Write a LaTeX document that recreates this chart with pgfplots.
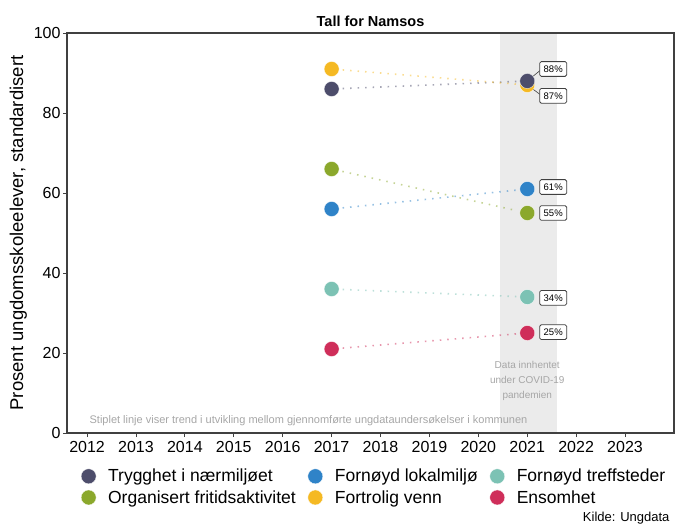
\documentclass[border=0pt]{standalone}
\usepackage{pgfplots}
\pgfplotsset{compat=1.18}
\usepackage{fontspec}
\setmainfont{Liberation Sans}
\definecolor{cdark}{HTML}{4D4D6B}
\definecolor{cblue}{HTML}{2F83C8}
\definecolor{cteal}{HTML}{7CC2B4}
\definecolor{cgreen}{HTML}{8BA82C}
\definecolor{cyellow}{HTML}{F5B923}
\definecolor{cred}{HTML}{CF2E5A}
\begin{document}
\begin{tikzpicture}[x=1pt,y=1pt]
\useasboundingbox (0,0) rectangle (676,531);
\begin{axis}[
  at={(67pt,98pt)}, anchor=south west,
  width=607pt, height=400pt, scale only axis,
  xmin=2011.59, xmax=2024.0, ymin=0, ymax=100,
  xtick={2012,...,2023}, ytick={0,20,...,100},
  xtick pos=left, ytick pos=left,
  tick align=outside, major tick length=4pt,
  tick style={black!75, line width=0.8pt},
  axis line style={black!75, line width=1.2pt},
  axis on top,
  x tick label style={/pgf/number format/1000 sep={}, yshift=-1pt},
  y tick label style={xshift=1pt},
  ticklabel style={font=\fontsize{16}{18}\selectfont},
  /pgf/number format/assume math mode=true,
  ylabel={Prosent ungdomsskoleelever, standardisert},
  ylabel style={font=\fontsize{18.5}{20}\selectfont, at={(axis description cs:-0.08,0.5)}, anchor=center},
  title={Tall for Namsos},
  title style={font=\bfseries\fontsize{14.5}{16}\selectfont, yshift=-3pt},
  legend columns=3,
  legend cell align=left,
  legend style={at={(0.018,-0.08)}, anchor=north west, draw=none,
    font=\fontsize{17.5}{19}\selectfont, column sep=10pt, row sep=3pt},
]
\fill[black!8] (axis cs:2020.45,0) rectangle (axis cs:2021.6,100);

% dotted trend lines
\pgfplotsset{trend/.style={line width=1.6pt, dash pattern=on 1.5pt off 6pt, opacity=0.5, forget plot, shorten <=11pt, shorten >=11pt}}
\addplot[cdark, trend] coordinates {(2017,86) (2021,88)};
\addplot[cblue, trend] coordinates {(2017,56) (2021,61)};
\addplot[cteal, trend] coordinates {(2017,36) (2021,34)};
\addplot[cgreen, trend] coordinates {(2017,66) (2021,55)};
\addplot[cyellow, trend] coordinates {(2017,91) (2021,87)};
\addplot[cred, trend] coordinates {(2017,21) (2021,25)};

\pgfplotsset{dot/.style={only marks, mark=*, mark size=7.5pt, mark options={draw=white, line width=0.3pt}}}
\addplot[cdark, dot] coordinates {(2017,86) (2021,88)};
\addlegendentry{Trygghet i nærmiljøet}
\addplot[cblue, dot] coordinates {(2017,56) (2021,61)};
\addlegendentry{Fornøyd lokalmiljø}
\addplot[cteal, dot] coordinates {(2017,36) (2021,34)};
\addlegendentry{Fornøyd treffsteder}
\addplot[cgreen, dot] coordinates {(2017,66) (2021,55)};
\addlegendentry{Organisert fritidsaktivitet}
\addplot[cyellow, dot] coordinates {(2017,91) (2021,87)};
\addlegendentry{Fortrolig venn}
\addplot[cred, dot] coordinates {(2017,21) (2021,25)};
\addlegendentry{Ensomhet}
\addplot[cdark, dot, forget plot] coordinates {(2021,88)};

% labels
\draw[black!75, line width=0.6pt] (axis cs:2021,88) -- (axis cs:2021.3,91);
\draw[black!75, line width=0.6pt] (axis cs:2021,87) -- (axis cs:2021.3,84.3);
\tikzset{lab/.style={draw=black!75, rounded corners=1.5pt, fill=white, line width=0.8pt,
  font=\fontsize{9.5}{11}\selectfont, inner xsep=4pt, inner ysep=4pt}}
\node[lab] at (axis cs:2021.53,91) {88\%};
\node[lab] at (axis cs:2021.53,84.3) {87\%};
\node[lab] at (axis cs:2021.53,61.5) {61\%};
\node[lab] at (axis cs:2021.53,55) {55\%};
\node[lab] at (axis cs:2021.53,33.8) {34\%};
\node[lab] at (axis cs:2021.53,25.2) {25\%};

\node[align=center, text=black!35, font=\fontsize{10}{15}\selectfont] at (axis cs:2021,13) {Data innhentet\\under COVID-19\\pandemien};
\node[anchor=west, text=black!35, font=\fontsize{11}{13}\selectfont] at (axis cs:2011.98,3) {Stiplet linje viser trend i utvikling mellom gjennomførte ungdataundersøkelser i kommunen};
\end{axis}
\node[anchor=south east, font=\fontsize{13}{15}\selectfont] at (673,3) {Kilde: Ungdata};
\end{tikzpicture}
\end{document}
